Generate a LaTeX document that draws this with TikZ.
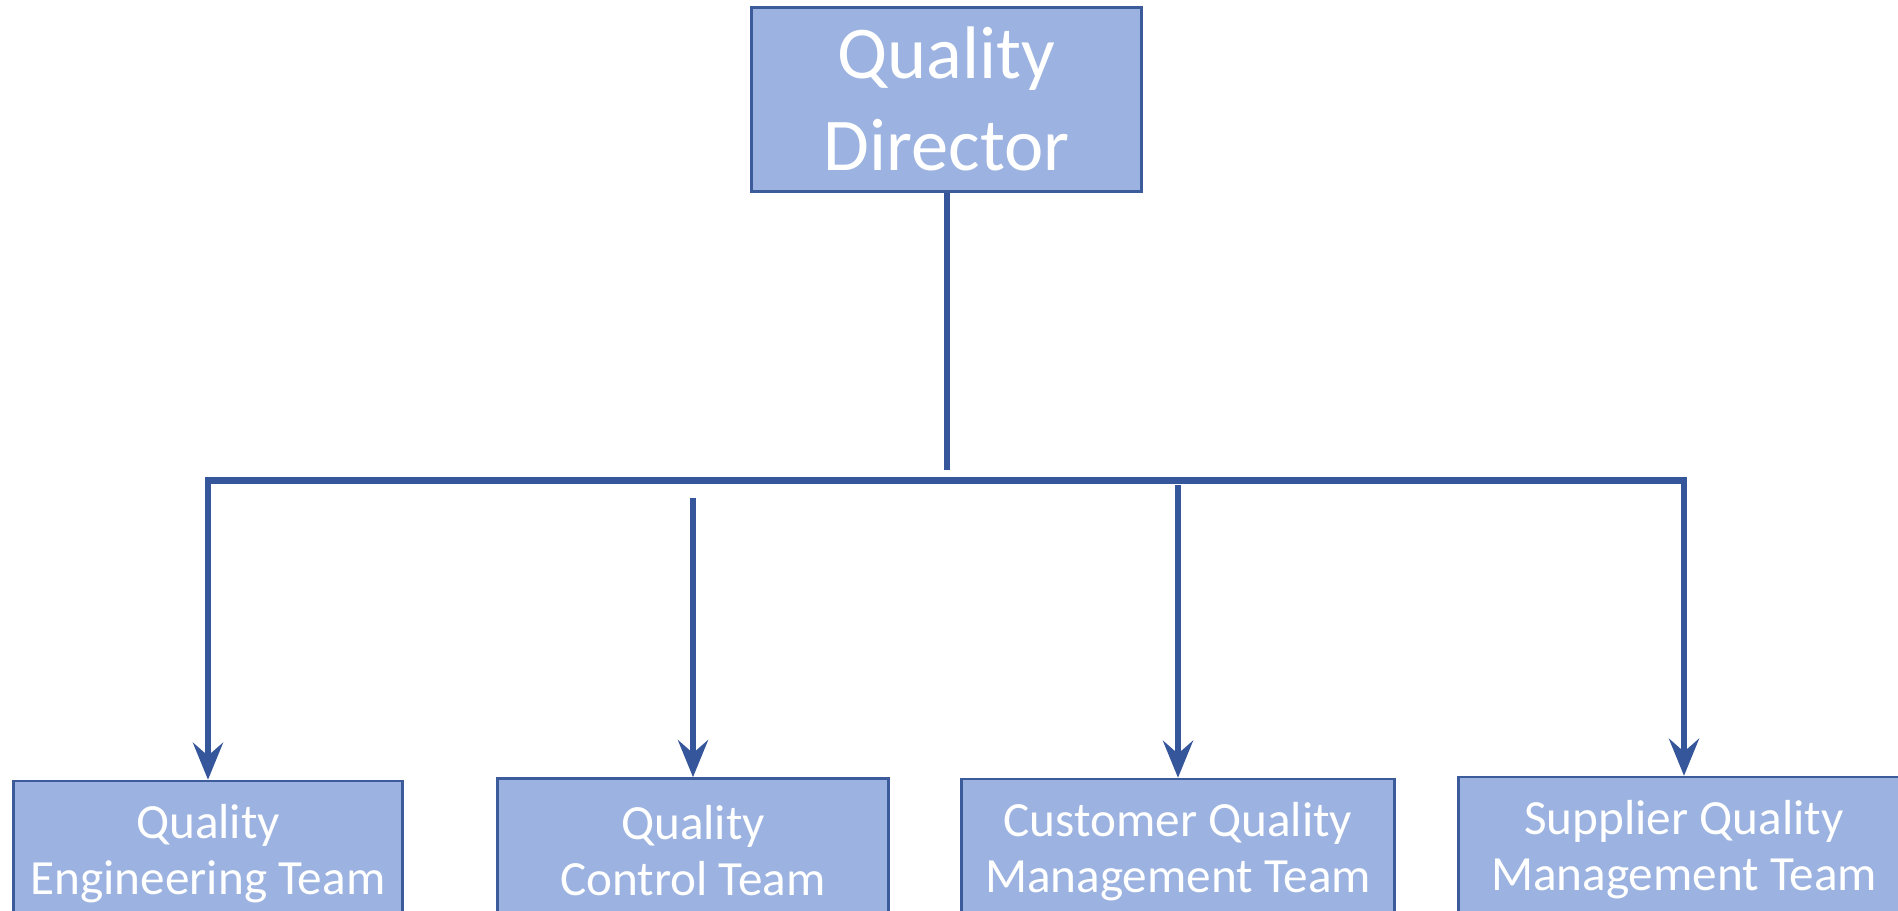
\documentclass[tikz,border=0pt]{standalone}
\usepackage{fontspec}
\setmainfont{Carlito}
\usetikzlibrary{arrows.meta}
\definecolor{cornflower}{HTML}{9CB2E0}
\definecolor{deepblue}{HTML}{35569A}
\definecolor{edgeblue}{HTML}{3B5B9B}

\tikzset{
  orgbox/.style={draw=edgeblue, line width=1.4pt, fill=cornflower,
    text=white, align=center, inner sep=0pt},
  headbox/.style={orgbox, minimum width=7.8cm, minimum height=3.68cm,
    font=\fontsize{42.4pt}{52.4pt}\selectfont},
  teambox/.style={orgbox, minimum height=2.9cm,
    font=\fontsize{28pt}{32pt}\selectfont},
  link/.style={draw=deepblue, line width=3.5pt},
  drop/.style={link, -{Stealth[length=0.74cm, width=0.6cm, inset=0.26cm]}}
}

\begin{document}
\begin{tikzpicture}[x=0.02cm, y=-0.02cm]
  \clip (0,0) rectangle (1898,911);

  \node[headbox] (director) at (946.6,99.3) {Quality\\Director};

  % the team boxes run off the bottom edge
  \node[teambox, minimum width=7.79cm] (engineering) at (208,853.5) {Quality\\Engineering Team};
  \node[teambox, minimum width=7.82cm] (control) at (693,850.9) {Quality\\Control Team};
  \node[teambox, minimum width=8.66cm] (customer) at (1178,851.5) {Customer Quality\\Management Team};
  \node[teambox, minimum width=9.02cm] (supplier) at (1684,849.5) {Supplier Quality\\Management Team};

  % bus bar and where the drops start
  \coordinate (busL) at (208,480.5);
  \coordinate (busR) at (1684,480.5);
  \coordinate (stem) at (946.6,470);
  \coordinate (dropQC) at (693,498);
  \coordinate (dropCQ) at (1178,485);

  \draw[link] (director) -- (stem);
  \draw[link, line cap=rect] (busL) -- (busR);
  \draw[drop] (busL) -- (engineering);
  \draw[drop] (dropQC) -- (control);
  \draw[drop] (dropCQ) -- (customer);
  \draw[drop] (busR) -- (supplier);
\end{tikzpicture}
\end{document}
